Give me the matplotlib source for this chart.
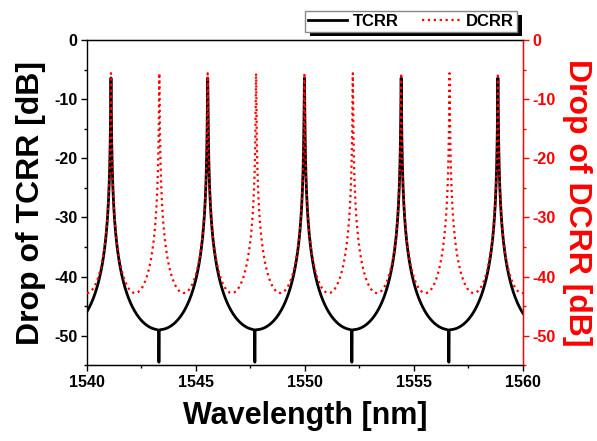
import numpy as np
import matplotlib
matplotlib.use("Agg")
import matplotlib.pyplot as plt
from matplotlib.patches import Rectangle
from matplotlib.ticker import MultipleLocator

plt.rcParams["font.family"] = ["Liberation Sans", "DejaVu Sans"]
plt.rcParams["font.weight"] = "bold"
plt.rcParams["axes.unicode_minus"] = False

# Wavelength span [nm]
wl_range = [1540, 1560]

# TCRR drop port: resonance peaks, anti-resonance notches and levels [dB]
tcrr_peaks = [1541.1, 1545.5, 1549.95, 1554.4, 1558.85]
tcrr_notches = [1543.3, 1547.7, 1552.15, 1556.6]
tcrr_peak_db = -6.4
tcrr_floor_db = -49.0
tcrr_notch_db = -54.5

# DCRR drop port: resonance peaks and levels [dB]
dcrr_peaks = [1541.1, 1543.3, 1545.5, 1547.7, 1549.95, 1552.15, 1554.4, 1556.6, 1558.85]
dcrr_peak_db = -5.6
dcrr_floor_db = -42.8

# Axis ticks
x_ticks = [1540, 1545, 1550, 1555, 1560]
y_ticks = [0, -10, -20, -30, -40, -50]
y_range = [-55, 0]


def airy_drop(wl, peaks, peak_db, floor_db):
    """Ring-resonator drop response (Airy line shape), linear power."""
    fsr = np.mean(np.diff(peaks))
    finesse_coef = 10 ** ((peak_db - floor_db) / 10) - 1
    phase = np.pi * (wl - peaks[0]) / fsr
    return 10 ** (peak_db / 10) / (1 + finesse_coef * np.sin(phase) ** 2)


wl = np.linspace(wl_range[0], wl_range[1], 40001)

tcrr_lin = airy_drop(wl, tcrr_peaks, tcrr_peak_db, tcrr_floor_db)
notch_depth = 1 - 10 ** ((tcrr_notch_db - tcrr_floor_db) / 10)
notch_w = 0.004
dip = np.zeros_like(wl)
for n in tcrr_notches:
    dip += notch_w ** 2 / ((wl - n) ** 2 + notch_w ** 2)
tcrr_lin = tcrr_lin * (1 - notch_depth * np.clip(dip, 0, 1))
tcrr_db = 10 * np.log10(tcrr_lin)

dcrr_db = 10 * np.log10(airy_drop(wl, dcrr_peaks, dcrr_peak_db, dcrr_floor_db))

fig = plt.figure(figsize=(5.97, 4.41), dpi=100)
ax = fig.add_axes([0.1457, 0.172, 0.7303, 0.737])
ax2 = ax.twinx()

l1, = ax.plot(wl, tcrr_db, color="black", lw=2.0, label="TCRR")
l2, = ax2.plot(wl, dcrr_db, color="red", lw=1.6, ls=":", label="DCRR")

for a in (ax, ax2):
    a.set_xlim(*wl_range)
    a.set_ylim(*y_range)
    a.set_yticks(y_ticks)
    a.yaxis.set_minor_locator(MultipleLocator(5))

ax.set_xticks(x_ticks)
ax.xaxis.set_minor_locator(MultipleLocator(2.5))
ax.set_xticklabels([str(t) for t in x_ticks])
ax.set_yticklabels([str(t) for t in y_ticks])
ax2.set_yticklabels([str(t) for t in y_ticks])

ax.tick_params(axis="both", which="major", direction="out", length=4, width=1,
               labelsize=11.5, pad=3)
ax.tick_params(axis="both", which="minor", direction="out", length=2.5, width=1)
ax.tick_params(axis="x", which="both", top=False)
ax.tick_params(axis="y", which="both", right=False)
ax2.tick_params(axis="y", which="major", direction="out", length=4, width=1,
                colors="red", labelsize=11.5, pad=3)
ax2.tick_params(axis="y", which="minor", direction="out", length=2.5, width=1,
                colors="red")

for s in ("left", "bottom", "top"):
    ax.spines[s].set_linewidth(1.0)
ax2.spines["right"].set_color("red")
ax2.spines["right"].set_linewidth(1.0)
ax2.spines["left"].set_visible(False)

ax.set_xlabel("Wavelength [nm]", fontsize=22, fontweight="bold", labelpad=8)
ax.set_ylabel("Drop of TCRR [dB]", fontsize=23, fontweight="bold", labelpad=6)
ax2.set_ylabel("Drop of DCRR [dB]", fontsize=23, fontweight="bold", color="red",
               rotation=270, labelpad=26)

leg = fig.legend([l1, l2], ["TCRR", "DCRR"], ncol=2, loc="lower right",
                 bbox_to_anchor=(0.866, 0.927), frameon=True, fancybox=False,
                 framealpha=1.0, fontsize=12, handlelength=2.3,
                 columnspacing=1.4, borderpad=0.2, handletextpad=0.35,
                 borderaxespad=0.0)
leg.get_frame().set_edgecolor("#888888")
leg.get_frame().set_linewidth(1.0)
leg.set_zorder(5)

fig.canvas.draw()
bb = leg.get_window_extent().transformed(fig.transFigure.inverted())
dx, dy = 5 / 597, 4 / 441
fig.patches.append(Rectangle((bb.x0 + dx, bb.y0 - dy), bb.width, bb.height,
                             transform=fig.transFigure, facecolor="black",
                             edgecolor="none", zorder=4))

fig.savefig("out.png", dpi=100)
